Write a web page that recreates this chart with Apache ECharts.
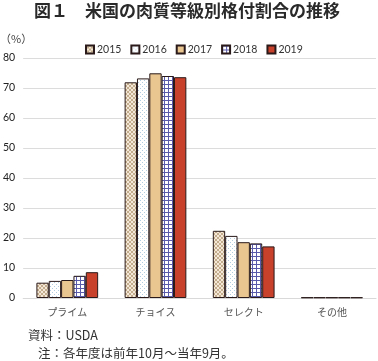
<!DOCTYPE html>
<html><head><meta charset="utf-8">
<script src="https://cdn.jsdelivr.net/npm/echarts@6/dist/echarts.min.js"></script>
<style>html,body{margin:0;padding:0;background:#fff}#c{width:378px;height:361px}</style>
</head><body><div id="c"></div>
<script>
const categories = ['プライム', 'チョイス', 'セレクト', 'その他'];
const years = ['2015', '2016', '2017', '2018', '2019'];
const v2015 = [5.1, 71.9, 22.4, 0.2];
const v2016 = [5.7, 73.2, 20.7, 0.2];
const v2017 = [6.0, 74.9, 18.6, 0.2];
const v2018 = [7.4, 74.0, 18.2, 0.2];
const v2019 = [8.6, 73.6, 17.2, 0.2];
const yTicks = [0, 10, 20, 30, 40, 50, 60, 70, 80];

function pat(size, draw) {
  const c = document.createElement('canvas');
  c.width = size; c.height = size;
  const g = c.getContext('2d');
  draw(g, size);
  return { image: c, repeat: 'repeat' };
}
const p2015 = pat(4, (g, s) => {
  g.fillStyle = '#F4E9D8'; g.fillRect(0, 0, s, s);
  g.fillStyle = '#C4AD8E';
  g.fillRect(0, 0, 1, 1); g.fillRect(1, 1, 1, 1); g.fillRect(2, 2, 1, 1); g.fillRect(3, 3, 1, 1);
  g.fillRect(3, 0, 1, 1); g.fillRect(2, 1, 1, 1); g.fillRect(1, 2, 1, 1); g.fillRect(0, 3, 1, 1);
});
const p2016 = pat(4, (g, s) => {
  g.fillStyle = '#FFFFFF'; g.fillRect(0, 0, s, s);
  g.fillStyle = '#B3CDE0';
  g.fillRect(0, 0, 1, 1); g.fillRect(2, 2, 1, 1);
});
const c2017 = '#E9C590';
const p2018 = pat(4, (g, s) => {
  g.fillStyle = '#FFFFFF'; g.fillRect(0, 0, s, s);
  g.fillStyle = '#5A5AAA';
  g.fillRect(0, 0, s, 1); g.fillRect(0, 0, 1, s);
});
const c2019 = '#C8412B';
const fills = [p2015, p2016, c2017, p2018, c2019];
const vals = [v2015, v2016, v2017, v2018, v2019];

const chart = echarts.init(document.getElementById('c'), null, { renderer: 'canvas' });
const jp = '"Noto Sans CJK JP", sans-serif';
chart.setOption({
  animation: false,
  title: [
    { text: '図１　米国の肉質等級別格付割合の推移', left: 29, top: -3,
      textStyle: { fontFamily: jp, fontSize: 17, fontWeight: 'bold', color: '#2a2a2a' } },
    { text: '（%）', left: -5, top: 28,
      textStyle: { fontFamily: jp, fontSize: 11, fontWeight: 'normal', color: '#444' } },
    { text: '資料：USDA', left: 23, top: 324,
      textStyle: { fontFamily: jp, fontSize: 12.5, fontWeight: 'normal', color: '#333' } },
    { text: '注：各年度は前年10月～当年9月。', left: 33, top: 342,
      textStyle: { fontFamily: jp, fontSize: 12.5, fontWeight: 'normal', color: '#333' } }
  ],
  legend: {
    data: years, top: 39, left: 80, itemWidth: 8, itemHeight: 8, itemGap: 9,
    icon: 'rect',
    textStyle: { fontFamily: 'Lato, sans-serif', fontSize: 10.5, color: '#333', padding: [0, 0, 0, -2] }
  },
  grid: { left: 22, right: 2, top: 58, bottom: 63, containLabel: false },
  xAxis: {
    type: 'category', data: categories,
    axisLine: { lineStyle: { color: '#D9D9D9' } },
    axisTick: { show: false },
    axisLabel: { fontFamily: jp, fontSize: 10, color: '#555', margin: 9 }
  },
  yAxis: {
    type: 'value', min: yTicks[0], max: yTicks[yTicks.length - 1], interval: 10,
    axisLine: { show: false }, axisTick: { show: false },
    splitLine: { lineStyle: { color: '#DCDCDC' } },
    axisLabel: { fontFamily: 'Lato, sans-serif', fontSize: 10.5, color: '#222', margin: 8 }
  },
  series: years.map((y, i) => ({
    name: y, type: 'bar', data: vals[i],
    barGap: '0%', barCategoryGap: '30%',
    itemStyle: { color: fills[i], borderColor: '#2a1a1a', borderWidth: 1 }
  }))
});
</script></body></html>
